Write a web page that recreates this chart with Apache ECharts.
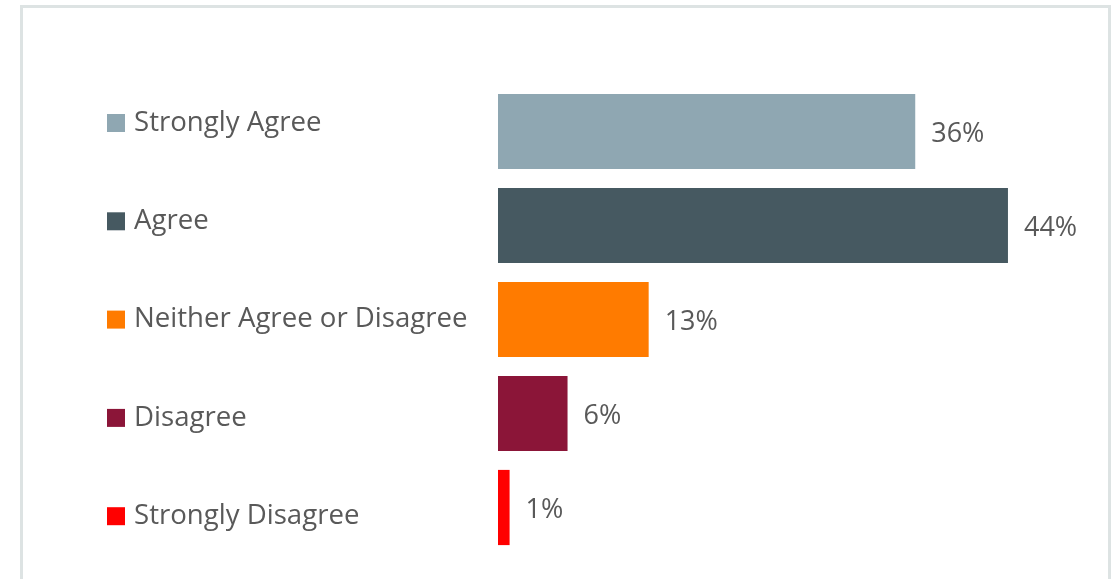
<!DOCTYPE html>
<html>
<head>
<meta charset="utf-8">
<script src="https://cdn.jsdelivr.net/npm/echarts@6/dist/echarts.min.js"></script>
<style>html,body{margin:0;padding:0;background:#fff;}#c{width:1114px;height:579px;}</style>
</head>
<body>
<div id="c"></div>
<script>
const categories = ["Strongly Agree", "Agree", "Neither Agree or Disagree", "Disagree", "Strongly Disagree"];
const values = [36, 44, 13, 6, 1];
const colors = ["#8fa7b2", "#465961", "#ff7b00", "#8b1538", "#ff0000"];

const chart = echarts.init(document.getElementById('c'));
const series = categories.map((name, i) => ({
  name: name,
  type: 'bar',
  stack: 'all',
  barCategoryGap: '20%',
  itemStyle: { color: colors[i] },
  label: {
    show: true,
    position: 'right',
    distance: 16,
    offset: [0, 3],
    formatter: '{c}%',
    color: '#595959',
    fontFamily: 'Open Sans',
    fontSize: 27
  },
  data: categories.map((c, j) => j === i ? values[i] : '-')
}));

chart.setOption({
  animation: false,
  backgroundColor: '#ffffff',
  graphic: [{
    type: 'rect',
    shape: { x: 21.5, y: 6.5, width: 1088, height: 640 },
    style: { fill: 'none', stroke: '#dde3e3', lineWidth: 3 },
    silent: true
  }],
  legend: {
    orient: 'vertical',
    left: 107,
    top: 106,
    padding: 0,
    icon: 'rect',
    itemWidth: 18,
    itemHeight: 18,
    itemGap: 64.3,
    data: categories,
    textStyle: {
      color: '#595959',
      fontFamily: 'Open Sans',
      fontSize: 27.6,
      lineHeight: 34,
      padding: [0, 0, 0, 4]
    }
  },
  grid: { left: 498, top: 84.5, bottom: 24.5, width: 579.5 },
  xAxis: { type: 'value', min: 0, max: 50, show: false },
  yAxis: { type: 'category', data: categories, inverse: true, show: false },
  series: series
});
</script>
</body>
</html>
